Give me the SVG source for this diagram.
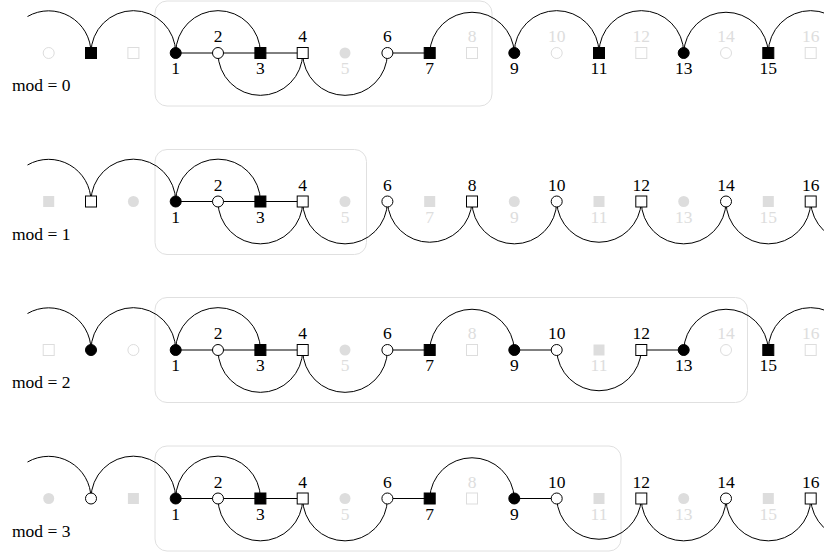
<svg xmlns="http://www.w3.org/2000/svg" xmlns:xlink="http://www.w3.org/1999/xlink" width="824" height="552" viewBox="0 0 824 552">
<style>
.box{fill:none;stroke:#e0e0e0;stroke-width:1}
.e{fill:none;stroke:#000;stroke-width:1}
.k{fill:#000;stroke:#000;stroke-width:1}
.w{fill:#fff;stroke:#000;stroke-width:1}
.gk{fill:#ddd;stroke:none}
.gw{fill:#fff;stroke:#ddd;stroke-width:1}
.l{text-anchor:middle}
.lg{fill:#ddd}
</style>
<defs>
<circle id="c" r="5.5"/>
<rect id="s" x="-5.5" y="-5.5" width="11" height="11"/>
</defs>
<rect class="box" x="155" y="1" width="337" height="105" rx="12"/>
<rect class="box" x="155" y="149.5" width="211.5" height="105" rx="12"/>
<rect class="box" x="155" y="297.5" width="592.5" height="105" rx="12"/>
<rect class="box" x="155" y="446" width="466" height="105" rx="12"/>
<g id="connectors">
<path class="e" d="M27.5,16.5 A42.33,42.33 0 0 1 91,53 A42.33,42.33 0 0 1 175.7,53 A42.33,42.33 0 0 1 260.4,53"/>
<path class="e" d="M175.7,53 H302.7"/>
<path class="e" d="M218,53 A42.33,42.33 0 0 0 302.7,53 A42.33,42.33 0 0 0 387.4,53"/>
<path class="e" d="M387.4,53 H429.7"/>
<path class="e" d="M429.7,53 A42.33,42.33 0 0 1 514.3,53 A42.33,42.33 0 0 1 599,53 A42.33,42.33 0 0 1 683.7,53 A42.33,42.33 0 0 1 768.3,53 A42.33,42.33 0 0 1 853,53"/>

<path class="e" d="M27.5,165 A42.33,42.33 0 0 1 91,201.5 A42.33,42.33 0 0 1 175.7,201.5 A42.33,42.33 0 0 1 260.4,201.5"/>
<path class="e" d="M175.7,201.5 H302.7"/>
<path class="e" d="M218,201.5 A42.33,42.33 0 0 0 302.7,201.5 A42.33,42.33 0 0 0 387.4,201.5 A42.33,42.33 0 0 0 472,201.5 A42.33,42.33 0 0 0 556.7,201.5 A42.33,42.33 0 0 0 641.3,201.5 A42.33,42.33 0 0 0 726,201.5 A42.33,42.33 0 0 0 810.7,201.5 A42.33,42.33 0 0 0 895.3,201.5"/>

<path class="e" d="M27.5,313.5 A42.33,42.33 0 0 1 91,350 A42.33,42.33 0 0 1 175.7,350 A42.33,42.33 0 0 1 260.4,350"/>
<path class="e" d="M175.7,350 H302.7"/>
<path class="e" d="M218,350 A42.33,42.33 0 0 0 302.7,350 A42.33,42.33 0 0 0 387.4,350"/>
<path class="e" d="M387.4,350 H429.7"/>
<path class="e" d="M429.7,350 A42.33,42.33 0 0 1 514.3,350"/>
<path class="e" d="M514.3,350 H556.7"/>
<path class="e" d="M556.7,350 A42.33,42.33 0 0 0 641.3,350"/>
<path class="e" d="M641.3,350 H683.7"/>
<path class="e" d="M683.7,350 A42.33,42.33 0 0 1 768.3,350 A42.33,42.33 0 0 1 853,350"/>

<path class="e" d="M27.5,462 A42.33,42.33 0 0 1 91,498.5 A42.33,42.33 0 0 1 175.7,498.5 A42.33,42.33 0 0 1 260.4,498.5"/>
<path class="e" d="M175.7,498.5 H302.7"/>
<path class="e" d="M218,498.5 A42.33,42.33 0 0 0 302.7,498.5 A42.33,42.33 0 0 0 387.4,498.5"/>
<path class="e" d="M387.4,498.5 H429.7"/>
<path class="e" d="M429.7,498.5 A42.33,42.33 0 0 1 514.3,498.5"/>
<path class="e" d="M514.3,498.5 H556.7"/>
<path class="e" d="M556.7,498.5 A42.33,42.33 0 0 0 641.3,498.5 A42.33,42.33 0 0 0 726,498.5 A42.33,42.33 0 0 0 810.7,498.5 A42.33,42.33 0 0 0 895.3,498.5"/>
</g>

<g font-family="Liberation Serif, Times New Roman, serif" font-size="17.5">
<text x="12" y="91">mod = 0</text>
<text x="12" y="239.5">mod = 1</text>
<text x="12" y="388">mod = 2</text>
<text x="12" y="536.5">mod = 3</text>

<!-- row 0 -->
<g id="r0-nm2"><use href="#c" x="48.7" y="53" class="gw"/></g>
<g id="r0-nm1"><use href="#s" x="91" y="53" class="k"/></g>
<g id="r0-n0"><use href="#s" x="133.4" y="53" class="gw"/></g>
<g id="r0-n1"><use href="#c" x="175.7" y="53" class="k"/><text class="l" x="175.7" y="74">1</text></g>
<g id="r0-n2"><use href="#c" x="218" y="53" class="w"/><text class="l" x="218" y="42">2</text></g>
<g id="r0-n3"><use href="#s" x="260.4" y="53" class="k"/><text class="l" x="260.4" y="74">3</text></g>
<g id="r0-n4"><use href="#s" x="302.7" y="53" class="w"/><text class="l" x="302.7" y="42">4</text></g>
<g id="r0-n5"><use href="#c" x="345" y="53" class="gk"/><text class="l lg" x="345" y="74">5</text></g>
<g id="r0-n6"><use href="#c" x="387.4" y="53" class="w"/><text class="l" x="387.4" y="42">6</text></g>
<g id="r0-n7"><use href="#s" x="429.7" y="53" class="k"/><text class="l" x="429.7" y="74">7</text></g>
<g id="r0-n8"><use href="#s" x="472" y="53" class="gw"/><text class="l lg" x="472" y="42">8</text></g>
<g id="r0-n9"><use href="#c" x="514.3" y="53" class="k"/><text class="l" x="514.3" y="74">9</text></g>
<g id="r0-n10"><use href="#c" x="556.7" y="53" class="gw"/><text class="l lg" x="556.7" y="42">10</text></g>
<g id="r0-n11"><use href="#s" x="599" y="53" class="k"/><text class="l" x="599" y="74">11</text></g>
<g id="r0-n12"><use href="#s" x="641.3" y="53" class="gw"/><text class="l lg" x="641.3" y="42">12</text></g>
<g id="r0-n13"><use href="#c" x="683.7" y="53" class="k"/><text class="l" x="683.7" y="74">13</text></g>
<g id="r0-n14"><use href="#c" x="726" y="53" class="gw"/><text class="l lg" x="726" y="42">14</text></g>
<g id="r0-n15"><use href="#s" x="768.3" y="53" class="k"/><text class="l" x="768.3" y="74">15</text></g>
<g id="r0-n16"><use href="#s" x="810.7" y="53" class="gw"/><text class="l lg" x="810.7" y="42">16</text></g>

<!-- row 1 -->
<g id="r1-nm2"><use href="#s" x="48.7" y="201.5" class="gk"/></g>
<g id="r1-nm1"><use href="#s" x="91" y="201.5" class="w"/></g>
<g id="r1-n0"><use href="#c" x="133.4" y="201.5" class="gk"/></g>
<g id="r1-n1"><use href="#c" x="175.7" y="201.5" class="k"/><text class="l" x="175.7" y="222.5">1</text></g>
<g id="r1-n2"><use href="#c" x="218" y="201.5" class="w"/><text class="l" x="218" y="190.5">2</text></g>
<g id="r1-n3"><use href="#s" x="260.4" y="201.5" class="k"/><text class="l" x="260.4" y="222.5">3</text></g>
<g id="r1-n4"><use href="#s" x="302.7" y="201.5" class="w"/><text class="l" x="302.7" y="190.5">4</text></g>
<g id="r1-n5"><use href="#c" x="345" y="201.5" class="gk"/><text class="l lg" x="345" y="222.5">5</text></g>
<g id="r1-n6"><use href="#c" x="387.4" y="201.5" class="w"/><text class="l" x="387.4" y="190.5">6</text></g>
<g id="r1-n7"><use href="#s" x="429.7" y="201.5" class="gk"/><text class="l lg" x="429.7" y="222.5">7</text></g>
<g id="r1-n8"><use href="#s" x="472" y="201.5" class="w"/><text class="l" x="472" y="190.5">8</text></g>
<g id="r1-n9"><use href="#c" x="514.3" y="201.5" class="gk"/><text class="l lg" x="514.3" y="222.5">9</text></g>
<g id="r1-n10"><use href="#c" x="556.7" y="201.5" class="w"/><text class="l" x="556.7" y="190.5">10</text></g>
<g id="r1-n11"><use href="#s" x="599" y="201.5" class="gk"/><text class="l lg" x="599" y="222.5">11</text></g>
<g id="r1-n12"><use href="#s" x="641.3" y="201.5" class="w"/><text class="l" x="641.3" y="190.5">12</text></g>
<g id="r1-n13"><use href="#c" x="683.7" y="201.5" class="gk"/><text class="l lg" x="683.7" y="222.5">13</text></g>
<g id="r1-n14"><use href="#c" x="726" y="201.5" class="w"/><text class="l" x="726" y="190.5">14</text></g>
<g id="r1-n15"><use href="#s" x="768.3" y="201.5" class="gk"/><text class="l lg" x="768.3" y="222.5">15</text></g>
<g id="r1-n16"><use href="#s" x="810.7" y="201.5" class="w"/><text class="l" x="810.7" y="190.5">16</text></g>

<!-- row 2 -->
<g id="r2-nm2"><use href="#s" x="48.7" y="350" class="gw"/></g>
<g id="r2-nm1"><use href="#c" x="91" y="350" class="k"/></g>
<g id="r2-n0"><use href="#c" x="133.4" y="350" class="gw"/></g>
<g id="r2-n1"><use href="#c" x="175.7" y="350" class="k"/><text class="l" x="175.7" y="371">1</text></g>
<g id="r2-n2"><use href="#c" x="218" y="350" class="w"/><text class="l" x="218" y="339">2</text></g>
<g id="r2-n3"><use href="#s" x="260.4" y="350" class="k"/><text class="l" x="260.4" y="371">3</text></g>
<g id="r2-n4"><use href="#s" x="302.7" y="350" class="w"/><text class="l" x="302.7" y="339">4</text></g>
<g id="r2-n5"><use href="#c" x="345" y="350" class="gk"/><text class="l lg" x="345" y="371">5</text></g>
<g id="r2-n6"><use href="#c" x="387.4" y="350" class="w"/><text class="l" x="387.4" y="339">6</text></g>
<g id="r2-n7"><use href="#s" x="429.7" y="350" class="k"/><text class="l" x="429.7" y="371">7</text></g>
<g id="r2-n8"><use href="#s" x="472" y="350" class="gw"/><text class="l lg" x="472" y="339">8</text></g>
<g id="r2-n9"><use href="#c" x="514.3" y="350" class="k"/><text class="l" x="514.3" y="371">9</text></g>
<g id="r2-n10"><use href="#c" x="556.7" y="350" class="w"/><text class="l" x="556.7" y="339">10</text></g>
<g id="r2-n11"><use href="#s" x="599" y="350" class="gk"/><text class="l lg" x="599" y="371">11</text></g>
<g id="r2-n12"><use href="#s" x="641.3" y="350" class="w"/><text class="l" x="641.3" y="339">12</text></g>
<g id="r2-n13"><use href="#c" x="683.7" y="350" class="k"/><text class="l" x="683.7" y="371">13</text></g>
<g id="r2-n14"><use href="#c" x="726" y="350" class="gw"/><text class="l lg" x="726" y="339">14</text></g>
<g id="r2-n15"><use href="#s" x="768.3" y="350" class="k"/><text class="l" x="768.3" y="371">15</text></g>
<g id="r2-n16"><use href="#s" x="810.7" y="350" class="gw"/><text class="l lg" x="810.7" y="339">16</text></g>

<!-- row 3 -->
<g id="r3-nm2"><use href="#c" x="48.7" y="498.5" class="gk"/></g>
<g id="r3-nm1"><use href="#c" x="91" y="498.5" class="w"/></g>
<g id="r3-n0"><use href="#s" x="133.4" y="498.5" class="gk"/></g>
<g id="r3-n1"><use href="#c" x="175.7" y="498.5" class="k"/><text class="l" x="175.7" y="519.5">1</text></g>
<g id="r3-n2"><use href="#c" x="218" y="498.5" class="w"/><text class="l" x="218" y="487.5">2</text></g>
<g id="r3-n3"><use href="#s" x="260.4" y="498.5" class="k"/><text class="l" x="260.4" y="519.5">3</text></g>
<g id="r3-n4"><use href="#s" x="302.7" y="498.5" class="w"/><text class="l" x="302.7" y="487.5">4</text></g>
<g id="r3-n5"><use href="#c" x="345" y="498.5" class="gk"/><text class="l lg" x="345" y="519.5">5</text></g>
<g id="r3-n6"><use href="#c" x="387.4" y="498.5" class="w"/><text class="l" x="387.4" y="487.5">6</text></g>
<g id="r3-n7"><use href="#s" x="429.7" y="498.5" class="k"/><text class="l" x="429.7" y="519.5">7</text></g>
<g id="r3-n8"><use href="#s" x="472" y="498.5" class="gw"/><text class="l lg" x="472" y="487.5">8</text></g>
<g id="r3-n9"><use href="#c" x="514.3" y="498.5" class="k"/><text class="l" x="514.3" y="519.5">9</text></g>
<g id="r3-n10"><use href="#c" x="556.7" y="498.5" class="w"/><text class="l" x="556.7" y="487.5">10</text></g>
<g id="r3-n11"><use href="#s" x="599" y="498.5" class="gk"/><text class="l lg" x="599" y="519.5">11</text></g>
<g id="r3-n12"><use href="#s" x="641.3" y="498.5" class="w"/><text class="l" x="641.3" y="487.5">12</text></g>
<g id="r3-n13"><use href="#c" x="683.7" y="498.5" class="gk"/><text class="l lg" x="683.7" y="519.5">13</text></g>
<g id="r3-n14"><use href="#c" x="726" y="498.5" class="w"/><text class="l" x="726" y="487.5">14</text></g>
<g id="r3-n15"><use href="#s" x="768.3" y="498.5" class="gk"/><text class="l lg" x="768.3" y="519.5">15</text></g>
<g id="r3-n16"><use href="#s" x="810.7" y="498.5" class="w"/><text class="l" x="810.7" y="487.5">16</text></g>
</g>
</svg>
